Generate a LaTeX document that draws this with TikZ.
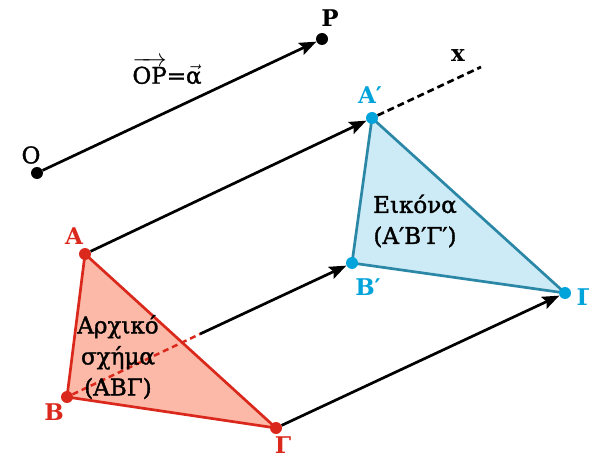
\documentclass[tikz,border=0pt]{standalone}
\usepackage{amsmath}
\usepackage{fontspec}
\setmainfont{DejaVu Serif}
\newfontfamily\heavyserif[FakeBold=1.5]{DejaVu Serif}
\usepackage{tikz}
\usetikzlibrary{arrows.meta}

\definecolor{origred}{HTML}{DA291C}
\definecolor{origfill}{HTML}{FCB9A7}
\definecolor{imgblue}{HTML}{00A3DA}
\definecolor{imgedge}{HTML}{2B87A6}
\definecolor{imgfill}{HTML}{CDEBF6}

\begin{document}
\begin{tikzpicture}[
    x=1pt, y=-1pt,
    dot/.style={circle, fill, inner sep=0pt, minimum size=12pt},
    point label/.style={font=\bfseries\fontsize{23}{25}\selectfont},
    shift arrow/.style={line width=2.7pt, -{Stealth[length=17pt, width=13pt, inset=3pt]}},
    body text/.style={align=center, font=\heavyserif\fontsize{23}{31}\selectfont},
  ]

  \useasboundingbox (0,0) rectangle (589,457);

  \coordinate (O) at (37,173);
  \coordinate (P) at (322,39);
  \coordinate (A) at (85,254);
  \coordinate (B) at (67,397);
  \coordinate (G) at (276,428);
  \coordinate (A1) at (372,118);
  \coordinate (B1) at (352,263);
  \coordinate (G1) at (565,293);
  \coordinate (m) at (200,334);
  \coordinate (xend) at (481,67);

  % the two triangles
  \filldraw[draw=origred, fill=origfill, line width=2.7pt, line join=round]
    (A) -- (B) -- (G) -- cycle;
  \filldraw[draw=imgedge, fill=imgfill, line width=2.7pt, line join=round]
    (A1) -- (B1) -- (G1) -- cycle;

  \node[dot, black] (o) at (O) {};
  \node[dot, black] (p) at (P) {};
  \node[dot, origred] (a) at (A) {};
  \node[dot, origred] (b) at (B) {};
  \node[dot, origred] (g) at (G) {};
  \node[dot, imgblue] (a1) at (A1) {};
  \node[dot, imgblue] (b1) at (B1) {};
  \node[dot, imgblue] (g1) at (G1) {};

  \draw[shift arrow] (o) -- (p);
  \draw[shift arrow] (a) -- (a1);
  \draw[shift arrow] (m) -- (b1);
  \draw[shift arrow] (g) -- (g1);
  \draw[origred, line width=2.5pt, dash pattern=on 6pt off 4pt] (b) -- (m);
  \draw[line width=2.7pt, dash pattern=on 7pt off 4pt] (a1) -- (xend);

  % labels
  \node[font=\heavyserif\fontsize{23}{25}\selectfont] (ol) at (31,155) {O};
  \node[point label] (pl) at (330,18) {P};
  \node[font=\heavyserif\fontsize{23}{25}\selectfont, inner sep=1pt] (vec) at (167,71)
    {$\overrightarrow{\text{OP}}\text{=}\vec{\text{α}}$};
  \node[point label] (xl) at (458,56) {x};
  \node[point label, origred] (al) at (74,236) {Α};
  \node[point label, origred] (bl) at (54,412) {Β};
  \node[point label, origred] (gl) at (283,445) {Γ};
  \node[point label, imgblue] (a1l) at (370,95) {Α′};
  \node[point label, imgblue] (b1l) at (368,287) {Β′};
  \node[point label, imgblue, anchor=west] (g1l) at (573,297) {Γ′};

  \node[body text] (orig) at (118,357) {Αρχικό\\σχήμα\\(ΑΒΓ)};
  \node[body text] (img) at (415,221) {Εικόνα\\(Α′Β′Γ′)};

\end{tikzpicture}
\end{document}
